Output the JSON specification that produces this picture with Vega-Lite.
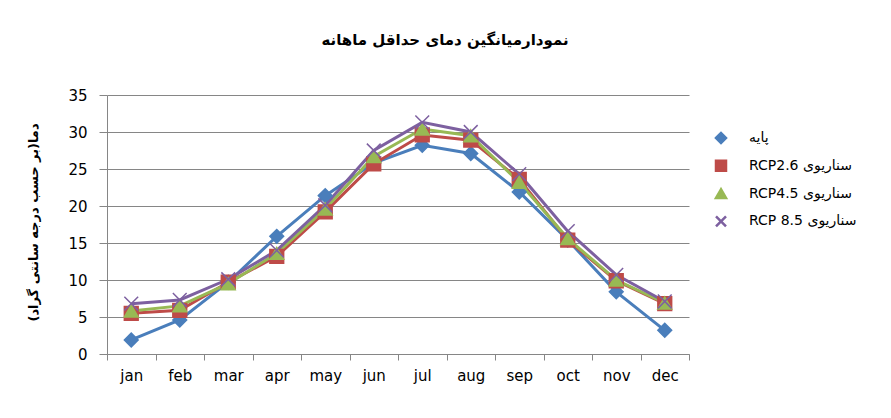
{
  "$schema": "https://vega.github.io/schema/vega-lite/v6.json",
  "autosize": {"type": "none"},
  "width": 582,
  "height": 259,
  "padding": {"left": 107, "top": 95, "right": 202, "bottom": 64},
  "background": "white",
  "config": {"view": {"stroke": null}},
  "title": {
    "text": "نمودارمیانگین دمای حداقل ماهانه",
    "font": "DejaVu Sans",
    "fontSize": 15,
    "fontWeight": "bold",
    "color": "#000000",
    "anchor": "middle",
    "frame": "group",
    "dx": 47,
    "offset": 28,
    "baseline": "alphabetic"
  },
  "data": {
    "values": [
      {"month": "jan", "series": "پایه", "value": 1.9},
      {"month": "feb", "series": "پایه", "value": 4.6},
      {"month": "mar", "series": "پایه", "value": 9.7},
      {"month": "apr", "series": "پایه", "value": 15.9},
      {"month": "may", "series": "پایه", "value": 21.4},
      {"month": "jun", "series": "پایه", "value": 25.8},
      {"month": "jul", "series": "پایه", "value": 28.2},
      {"month": "aug", "series": "پایه", "value": 27.1},
      {"month": "sep", "series": "پایه", "value": 21.9},
      {"month": "oct", "series": "پایه", "value": 15.4},
      {"month": "nov", "series": "پایه", "value": 8.4},
      {"month": "dec", "series": "پایه", "value": 3.2},
      {"month": "jan", "series": "RCP2.6 سناریوی", "value": 5.5},
      {"month": "feb", "series": "RCP2.6 سناریوی", "value": 5.9},
      {"month": "mar", "series": "RCP2.6 سناریوی", "value": 9.7},
      {"month": "apr", "series": "RCP2.6 سناریوی", "value": 13.2},
      {"month": "may", "series": "RCP2.6 سناریوی", "value": 19.2},
      {"month": "jun", "series": "RCP2.6 سناریوی", "value": 25.7},
      {"month": "jul", "series": "RCP2.6 سناریوی", "value": 29.6},
      {"month": "aug", "series": "RCP2.6 سناریوی", "value": 28.9},
      {"month": "sep", "series": "RCP2.6 سناریوی", "value": 23.6},
      {"month": "oct", "series": "RCP2.6 سناریوی", "value": 15.4},
      {"month": "nov", "series": "RCP2.6 سناریوی", "value": 9.9},
      {"month": "dec", "series": "RCP2.6 سناریوی", "value": 6.8},
      {"month": "jan", "series": "RCP4.5 سناریوی", "value": 5.8},
      {"month": "feb", "series": "RCP4.5 سناریوی", "value": 6.5},
      {"month": "mar", "series": "RCP4.5 سناریوی", "value": 9.5},
      {"month": "apr", "series": "RCP4.5 سناریوی", "value": 13.6},
      {"month": "may", "series": "RCP4.5 سناریوی", "value": 19.6},
      {"month": "jun", "series": "RCP4.5 سناریوی", "value": 26.7},
      {"month": "jul", "series": "RCP4.5 سناریوی", "value": 30.4},
      {"month": "aug", "series": "RCP4.5 سناریوی", "value": 29.5},
      {"month": "sep", "series": "RCP4.5 سناریوی", "value": 23.2},
      {"month": "oct", "series": "RCP4.5 سناریوی", "value": 15.6},
      {"month": "nov", "series": "RCP4.5 سناریوی", "value": 10.0},
      {"month": "dec", "series": "RCP4.5 سناریوی", "value": 6.9},
      {"month": "jan", "series": "RCP 8.5 سناریوی", "value": 6.8},
      {"month": "feb", "series": "RCP 8.5 سناریوی", "value": 7.3},
      {"month": "mar", "series": "RCP 8.5 سناریوی", "value": 10.1},
      {"month": "apr", "series": "RCP 8.5 سناریوی", "value": 14.0},
      {"month": "may", "series": "RCP 8.5 سناریوی", "value": 20.1},
      {"month": "jun", "series": "RCP 8.5 سناریوی", "value": 27.5},
      {"month": "jul", "series": "RCP 8.5 سناریوی", "value": 31.3},
      {"month": "aug", "series": "RCP 8.5 سناریوی", "value": 30.0},
      {"month": "sep", "series": "RCP 8.5 سناریوی", "value": 24.3},
      {"month": "oct", "series": "RCP 8.5 سناریوی", "value": 16.6},
      {"month": "nov", "series": "RCP 8.5 سناریوی", "value": 10.7},
      {"month": "dec", "series": "RCP 8.5 سناریوی", "value": 7.1}
    ]
  },
  "encoding": {
    "x": {
      "field": "month",
      "type": "nominal",
      "sort": ["jan", "feb", "mar", "apr", "may", "jun", "jul", "aug", "sep", "oct", "nov", "dec"],
      "scale": {"type": "band", "paddingInner": 0, "paddingOuter": 0},
      "axis": {
        "title": null,
        "labelAngle": 0,
        "tickBand": "extent",
        "tickSize": 6,
        "tickColor": "#868686",
        "domainColor": "#868686",
        "grid": false,
        "labelFont": "DejaVu Sans",
        "labelFontSize": 15,
        "labelColor": "#000000",
        "labelPadding": 8
      }
    },
    "y": {
      "field": "value",
      "type": "quantitative",
      "scale": {"domain": [0, 35]},
      "axis": {
        "title": "دما(بر حسب درجه سانتی گراد)\u200f",
        "titleFont": "DejaVu Sans",
        "titleFontSize": 13,
        "titleFontWeight": "bold",
        "titleColor": "#000000",
        "titleAngle": 270,
        "titleAlign": "center",
        "titleBaseline": "middle",
        "titleX": -74,
        "titleY": 127,
        "values": [0, 5, 10, 15, 20, 25, 30, 35],
        "grid": true,
        "gridColor": "#868686",
        "tickColor": "#868686",
        "domainColor": "#868686",
        "tickSize": 8,
        "labelFont": "DejaVu Sans",
        "labelFontSize": 15,
        "labelColor": "#000000",
        "labelPadding": 12
      }
    }
  },
  "layer": [
    {
      "mark": {"type": "line", "strokeWidth": 3},
      "encoding": {
        "color": {
          "field": "series",
          "type": "nominal",
          "scale": {
            "domain": ["پایه", "RCP2.6 سناریوی", "RCP4.5 سناریوی", "RCP 8.5 سناریوی"],
            "range": ["#4A7EBB", "#BE4B48", "#98B954", "#7D60A0"]
          },
          "legend": {
            "title": null,
            "orient": "none",
            "legendX": 607,
            "legendY": 36,
            "padding": 0,
            "symbolSize": 100,
            "labelOffset": 21,
            "rowPadding": 7.8,
            "labelFont": "DejaVu Sans",
            "labelFontSize": 14,
            "labelColor": "#000000",
            "labelLimit": 300,
            "encode": {
              "symbols": {
                "update": {
                  "strokeWidth": {"value": 2.5},
                  "size": {"value": 100},
                  "opacity": {"value": 1}
                }
              }
            }
          }
        }
      }
    },
    {
      "mark": {"type": "point", "filled": true, "size": 190, "opacity": 1, "strokeWidth": 1.5},
      "encoding": {
        "shape": {
          "field": "series",
          "type": "nominal",
          "scale": {
            "domain": ["پایه", "RCP2.6 سناریوی", "RCP4.5 سناریوی", "RCP 8.5 سناریوی"],
            "range": ["diamond", "square", "triangle-up", "M-1,-1L1,1M-1,1L1,-1"]
          },
          "legend": null
        },
        "fill": {
          "field": "series",
          "type": "nominal",
          "scale": {
            "domain": ["پایه", "RCP2.6 سناریوی", "RCP4.5 سناریوی", "RCP 8.5 سناریوی"],
            "range": ["#4A7EBB", "#BE4B48", "#98B954", "#7D60A0"]
          },
          "legend": null
        },
        "stroke": {
          "field": "series",
          "type": "nominal",
          "scale": {
            "domain": ["پایه", "RCP2.6 سناریوی", "RCP4.5 سناریوی", "RCP 8.5 سناریوی"],
            "range": ["#4A7EBB", "#BE4B48", "#98B954", "#7D60A0"]
          },
          "legend": null
        }
      }
    }
  ]
}
